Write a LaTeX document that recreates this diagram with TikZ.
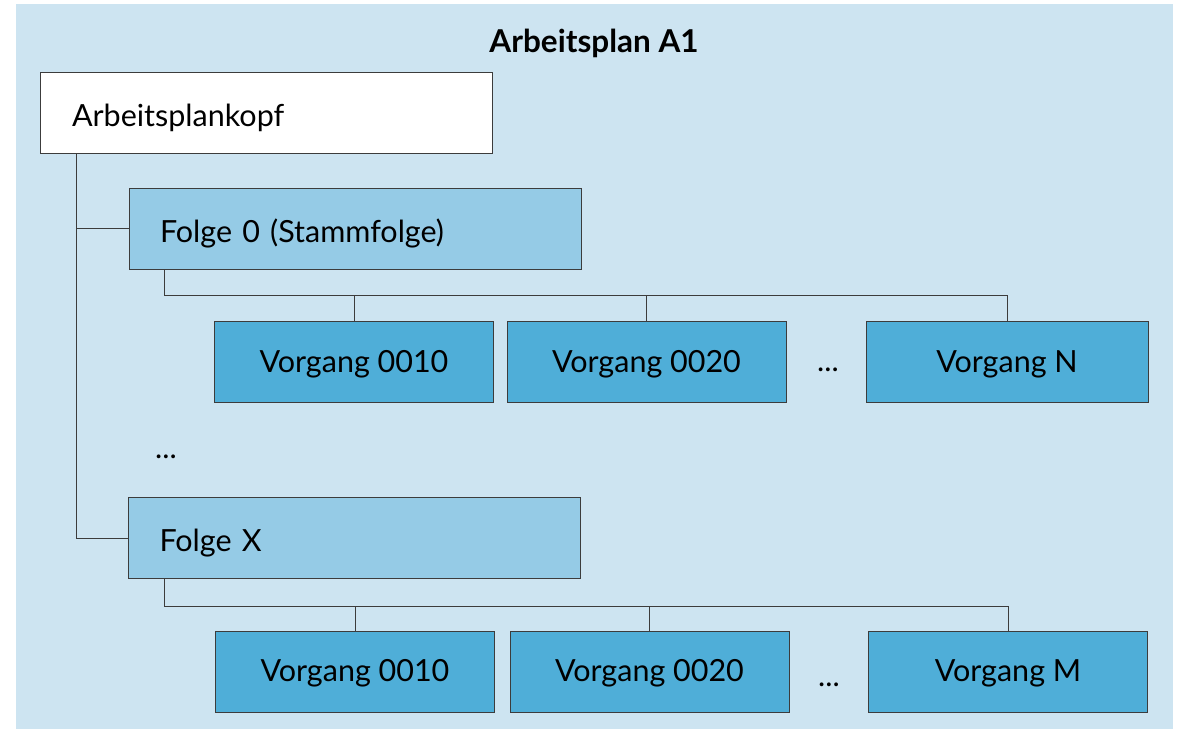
\documentclass[tikz,border=0pt]{standalone}
\usepackage{fontspec}
\setmainfont{Lato}
\usepackage{tikz}
\usetikzlibrary{positioning,calc}

\definecolor{planbg}{HTML}{CDE4F1}
\definecolor{folgefill}{HTML}{95CBE6}
\definecolor{vorgfill}{HTML}{4FAED8}
\definecolor{randgrau}{HTML}{3C3C3C}
\newcommand\plfont{\fontsize{30.5}{36}\selectfont}

\tikzset{
  kasten/.style={draw=randgrau, line width=1pt, minimum height=81pt, inner xsep=0pt, font=\plfont},
  kopfbox/.style={kasten, fill=white, minimum width=452pt, text width=388pt, align=left,
    text height=28pt, text depth=0pt},
  folgebox/.style={kasten, fill=folgefill, minimum width=452pt, text width=390pt, align=left,
    text height=27pt, text depth=0pt},
  vorgbox/.style={kasten, fill=vorgfill, minimum width=279pt, text height=20pt, text depth=0pt},
  linie/.style={draw=randgrau, line width=1pt},
  punkte/.style={font=\plfont, inner sep=0pt}
}

\begin{document}
\begin{tikzpicture}[x=1pt, y=-1pt]
\useasboundingbox (0,0) rectangle (1178,729);

% Hintergrund
\fill[planbg] (16,4) rectangle (1173,729);
\node[font=\fontsize{31.5}{36}\selectfont\bfseries] (titel) at (594,43) {Arbeitsplan A1};

% Kopf und Folgen
\node[kopfbox]  (kopf)   at (266,112.5) {Arbeitsplankopf};
\node[folgebox] (folge0) at (355,228.5) {Folge 0 (Stammfolge)};
\node[folgebox] (folgex) at (354.5,538) {Folge X};
\node[punkte]   (dotsf)  at (166,457) {...};

% Vorgaenge der Folge 0
\node[vorgbox] (v01) at (354,362) {Vorgang 0010};
\node[vorgbox] (v02) at (646.5,362) {Vorgang 0020};
\node[vorgbox, minimum width=282pt] (v0n) at (1007,362) {Vorgang N};
\node[punkte]  (dots0) at (828,370) {...};

% Vorgaenge der Folge X
\node[vorgbox] (vx1) at (355,671.5) {Vorgang 0010};
\node[vorgbox] (vx2) at (649.5,671.5) {Vorgang 0020};
\node[vorgbox] (vxm) at (1008,671.5) {Vorgang M};
\node[punkte]  (dotsx) at (829,685) {...};

% Stamm vom Kopf zu den Folgen
\coordinate (stamm) at ($(kopf.south west)+(37,0)$);
\draw[linie] (stamm) |- (folge0.west);
\draw[linie] (stamm) |- (folgex.west);

% Verzweigung Folge 0
\coordinate (ast0) at ($(folge0.south west)+(36,26)$);
\draw[linie] (ast0 |- folge0.south) -- (ast0) -- (ast0 -| v0n.north) -- (v0n.north);
\draw[linie] (v01.north) -- (v01.north |- ast0);
\draw[linie] (v02.north) -- (v02.north |- ast0);

% Verzweigung Folge X
\coordinate (astx) at ($(folgex.south west)+(36,27)$);
\draw[linie] (astx |- folgex.south) -- (astx) -- (astx -| vxm.north) -- (vxm.north);
\draw[linie] (vx1.north) -- (vx1.north |- astx);
\draw[linie] (vx2.north) -- (vx2.north |- astx);

\end{tikzpicture}
\end{document}
